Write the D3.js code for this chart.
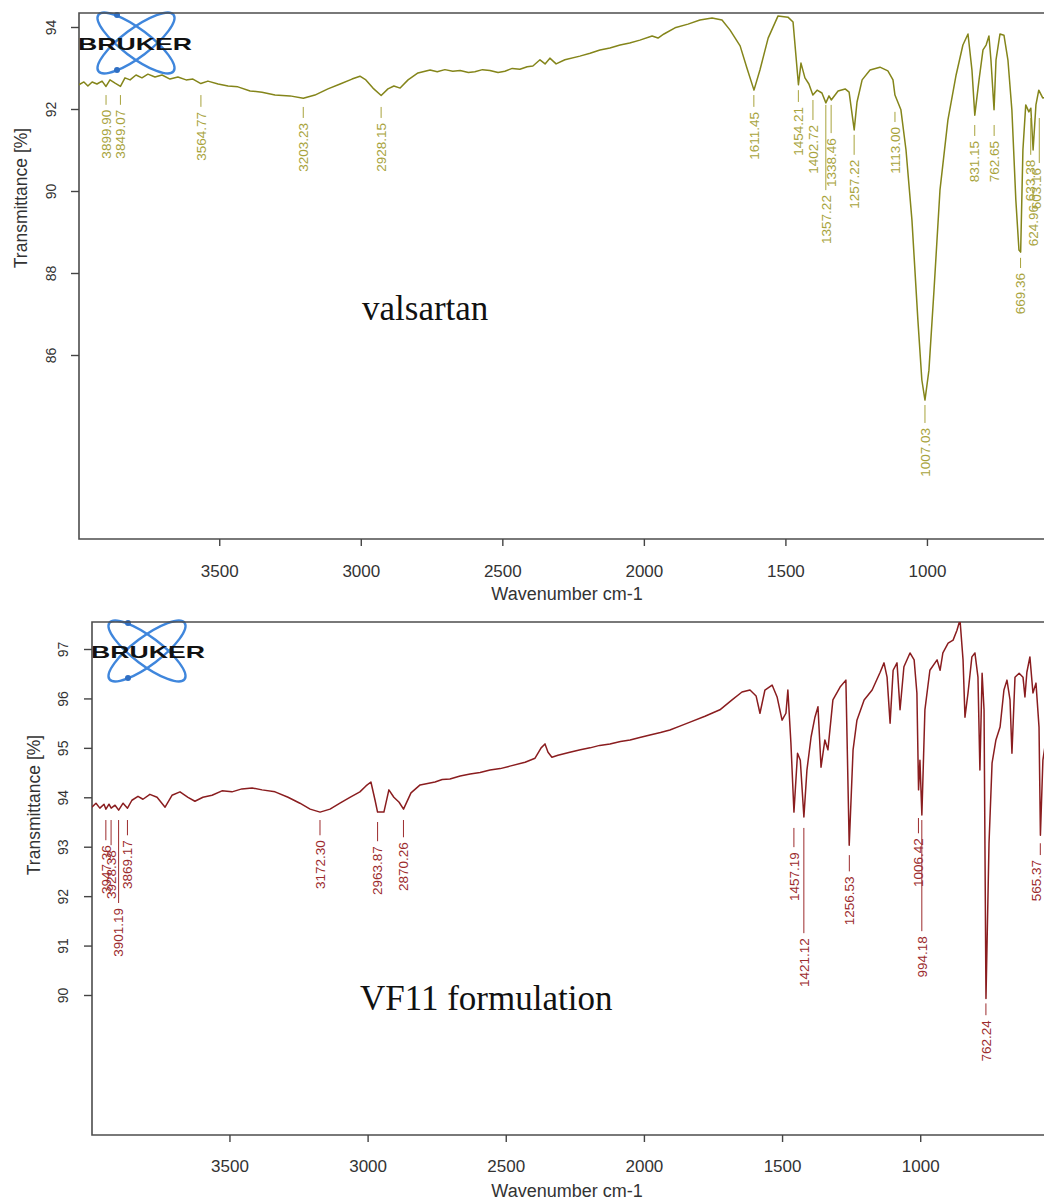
<!DOCTYPE html>
<html>
<head>
<meta charset="utf-8">
<script src="https://cdn.jsdelivr.net/npm/d3@7"></script>
<style>
  body { margin: 0; background: #fff; }
  svg { display: block; font-family: "Liberation Sans", Arial, sans-serif; }
</style>
</head>
<body>
<svg id="chart" width="1044" height="1202"></svg>
<script>
// FTIR spectra of valsartan and the VF11 formulation
// [wavenumber cm-1, transmittance %]

const valsartanSpectrum = [
  [3996, 92.59], [3978, 92.66], [3964, 92.56], [3949, 92.66], [3932, 92.61], [3914, 92.68], [3900, 92.55],
  [3886, 92.71], [3868, 92.63], [3849, 92.55], [3833, 92.76], [3815, 92.71], [3794, 92.83], [3773, 92.76],
  [3752, 92.85], [3727, 92.78], [3702, 92.83], [3674, 92.73], [3646, 92.78], [3617, 92.71], [3593, 92.73],
  [3565, 92.62], [3540, 92.68], [3504, 92.61], [3469, 92.56], [3434, 92.54], [3391, 92.44], [3349, 92.41],
  [3303, 92.34], [3250, 92.32], [3203, 92.26], [3162, 92.34], [3116, 92.49], [3073, 92.61], [3031, 92.73],
  [3003, 92.80], [2982, 92.71], [2957, 92.51], [2928, 92.33], [2904, 92.49], [2883, 92.56], [2861, 92.51],
  [2833, 92.71], [2798, 92.88], [2755, 92.95], [2730, 92.91], [2703, 92.96], [2675, 92.92], [2649, 92.94],
  [2620, 92.89], [2597, 92.91], [2570, 92.96], [2544, 92.94], [2515, 92.89], [2491, 92.92], [2465, 92.99],
  [2438, 92.97], [2412, 93.03], [2392, 93.05], [2367, 93.20], [2349, 93.10], [2332, 93.24], [2310, 93.10],
  [2279, 93.20], [2226, 93.29], [2190, 93.36], [2155, 93.44], [2120, 93.49], [2084, 93.56], [2050, 93.61],
  [2014, 93.68], [1971, 93.78], [1950, 93.73], [1929, 93.83], [1890, 93.98], [1844, 94.07], [1802, 94.17],
  [1759, 94.22], [1724, 94.17], [1696, 93.93], [1660, 93.54], [1636, 93.00], [1611, 92.46], [1590, 92.95],
  [1561, 93.73], [1526, 94.27], [1491, 94.24], [1473, 94.12], [1454, 92.59], [1445, 93.12], [1431, 92.76],
  [1417, 92.61], [1403, 92.34], [1388, 92.46], [1371, 92.39], [1357, 92.15], [1346, 92.32], [1338, 92.22],
  [1314, 92.44], [1289, 92.49], [1275, 92.41], [1257, 91.49], [1247, 92.17], [1229, 92.71], [1201, 92.95],
  [1166, 93.02], [1138, 92.93], [1120, 92.71], [1113, 92.34], [1092, 91.98], [1074, 91.00], [1053, 89.29],
  [1032, 86.85], [1018, 85.39], [1007, 84.90], [993, 85.63], [975, 87.59], [954, 90.02], [926, 91.73],
  [897, 92.83], [873, 93.56], [855, 93.83], [841, 92.95], [831, 91.85], [816, 92.71], [802, 93.44],
  [791, 93.56], [781, 93.78], [774, 93.20], [763, 91.98], [756, 93.20], [742, 93.83], [728, 93.80],
  [714, 93.20], [700, 91.98], [686, 89.78], [675, 88.56], [669, 88.51], [661, 91.00], [651, 92.10],
  [640, 91.93], [633, 92.02], [625, 91.00], [615, 92.10], [605, 92.46], [591, 92.27], [570, 92.30], [550, 92.40]
];

const vf11Spectrum = [
  [3998, 93.80], [3983, 93.88], [3969, 93.78], [3954, 93.86], [3947, 93.76], [3936, 93.86], [3928, 93.78],
  [3914, 93.84], [3901, 93.74], [3885, 93.88], [3869, 93.78], [3853, 93.94], [3831, 94.02], [3813, 93.96],
  [3788, 94.06], [3762, 94.00], [3733, 93.80], [3708, 94.04], [3679, 94.11], [3650, 94.00], [3625, 93.92],
  [3596, 94.00], [3563, 94.04], [3527, 94.13], [3491, 94.11], [3455, 94.17], [3418, 94.19], [3382, 94.15],
  [3335, 94.11], [3288, 94.00], [3245, 93.88], [3208, 93.76], [3172, 93.70], [3136, 93.76], [3100, 93.88],
  [3064, 94.00], [3028, 94.11], [3006, 94.23], [2988, 94.31], [2973, 93.94], [2964, 93.70], [2941, 93.70],
  [2923, 94.15], [2905, 94.00], [2886, 93.90], [2870, 93.76], [2843, 94.09], [2810, 94.25], [2756, 94.31],
  [2730, 94.36], [2702, 94.37], [2665, 94.43], [2629, 94.47], [2593, 94.50], [2557, 94.55], [2520, 94.58],
  [2485, 94.63], [2430, 94.71], [2394, 94.79], [2372, 95.00], [2358, 95.08], [2347, 94.91], [2333, 94.81],
  [2311, 94.85], [2268, 94.91], [2230, 94.96], [2195, 95.00], [2160, 95.05], [2123, 95.08], [2085, 95.13],
  [2050, 95.16], [2015, 95.21], [1978, 95.26], [1940, 95.31], [1906, 95.36], [1870, 95.44], [1833, 95.52],
  [1779, 95.64], [1725, 95.77], [1681, 95.97], [1645, 96.13], [1616, 96.17], [1594, 96.05], [1580, 95.70],
  [1562, 96.17], [1536, 96.27], [1518, 96.03], [1500, 95.56], [1486, 95.70], [1479, 96.17], [1468, 95.10],
  [1457, 93.70], [1444, 94.89], [1434, 94.75], [1421, 93.60], [1410, 94.55], [1395, 95.22], [1381, 95.62],
  [1370, 95.83], [1359, 94.61], [1345, 95.16], [1334, 94.96], [1316, 95.97], [1290, 96.23], [1269, 96.37],
  [1257, 93.03], [1243, 94.96], [1229, 95.56], [1203, 95.97], [1174, 96.17], [1145, 96.53], [1131, 96.72],
  [1120, 96.43], [1109, 95.50], [1098, 96.57], [1084, 96.72], [1073, 95.77], [1059, 96.64], [1037, 96.92],
  [1022, 96.78], [1012, 96.11], [1006, 94.15], [1001, 94.75], [994, 93.64], [983, 95.77], [965, 96.57],
  [939, 96.78], [928, 96.57], [918, 96.92], [899, 97.12], [881, 97.18], [867, 97.38], [856, 97.59],
  [845, 96.78], [838, 95.62], [827, 96.11], [813, 96.84], [802, 96.92], [791, 96.43], [784, 94.55],
  [776, 96.51], [769, 95.77], [762, 89.93], [751, 93.07], [740, 94.69], [726, 95.16], [711, 95.42],
  [697, 96.17], [686, 96.37], [675, 95.97], [668, 94.89], [657, 96.43], [642, 96.51], [628, 96.43],
  [621, 96.03], [614, 96.53], [603, 96.84], [592, 96.11], [581, 96.31], [570, 95.42], [565, 93.23],
  [556, 94.75], [545, 95.16]
];

// peak picks: wavenumber, level where the tick starts, level where the text starts (transmittance %)
const valsartanPeaks = [3899.90, 3849.07, 3564.77, 3203.23, 2928.15, 1611.45, 1454.21, 1402.72, 1357.22,
  1338.46, 1257.22, 1113.00, 1007.03, 831.15, 762.65, 669.36, 633.38, 624.96, 603.16];
const valsartanPeakTop = [92.34, 92.34, 92.34, 92.05, 92.05, 92.34, 92.46, 92.22, 92.10,
  92.10, 91.37, 91.93, 84.78, 91.61, 91.61, 88.37, 91.78, 90.02, 91.78];
const valsartanPeakText = [91.98, 91.98, 91.93, 91.66, 91.66, 91.93, 92.05, 91.61, 89.90,
  91.29, 90.76, 91.56, 84.22, 91.22, 91.22, 88.00, 90.76, 89.66, 90.56];

const vf11Peaks = [3947.36, 3928.38, 3901.19, 3869.17, 3172.30, 2963.87, 2870.26, 1457.19, 1421.12,
  1256.53, 1006.42, 994.18, 762.24, 565.37];
const vf11PeakTop = [93.54, 93.54, 93.54, 93.54, 93.54, 93.50, 93.54, 93.38, 93.38,
  92.83, 93.58, 93.54, 89.83, 93.07];
const vf11PeakText = [93.03, 92.93, 91.76, 93.13, 93.13, 93.01, 93.09, 92.89, 91.15,
  92.40, 93.17, 91.19, 89.49, 92.73];

const xTicks = [3500, 3000, 2500, 2000, 1500, 1000];
const valsartanYTicks = [86, 88, 90, 92, 94];
const vf11YTicks = [90, 91, 92, 93, 94, 95, 96, 97];

const svg = d3.select('#chart');
svg.append('rect').attr('width', 1044).attr('height', 1202).attr('fill', '#fff');

const fmt = d3.format('.2f');

function drawPanel(p) {
  const g = svg.append('g');
  const x = d3.scaleLinear().domain([4000, 400]).range(p.xRange);
  const y = d3.scaleLinear().domain(p.yDomain).range(p.yRange);

  svg.append('clipPath').attr('id', 'clip-' + p.id)
    .append('rect')
    .attr('x', p.left).attr('y', p.top)
    .attr('width', 1044 - p.left).attr('height', p.bottom - p.top);

  // Bruker logo
  const logo = g.append('g').attr('transform', `translate(${p.logo[0]},${p.logo[1]})`);
  [37, -37].forEach(a => {
    logo.append('ellipse').attr('rx', 47).attr('ry', 14)
      .attr('transform', `rotate(${a})`)
      .attr('fill', 'none').attr('stroke', '#3f86dc').attr('stroke-width', 2.4);
  });
  [[-19, -28], [-19, 27]].forEach(d => {
    logo.append('circle').attr('cx', d[0]).attr('cy', d[1]).attr('r', 3).attr('fill', '#2f6fc4');
  });
  g.append('text')
    .attr('x', p.left - 1).attr('y', p.logo[1] + 7)
    .attr('textLength', 114).attr('lengthAdjust', 'spacingAndGlyphs')
    .attr('font-size', 17).attr('font-weight', 'bold').attr('fill', '#111')
    .text('BRUKER');

  // frame (open on the right, the picture is cut there)
  g.append('path')
    .attr('d', `M1044,${p.top}H${p.left}V${p.bottom}H1044`)
    .attr('fill', 'none').attr('stroke', '#4d4d4d').attr('stroke-width', 1.6);

  // spectrum
  g.append('path').datum(p.data)
    .attr('clip-path', `url(#clip-${p.id})`)
    .attr('d', d3.line().x(d => x(d[0])).y(d => y(d[1])))
    .attr('fill', 'none').attr('stroke', p.color)
    .attr('stroke-width', 1.5).attr('stroke-linejoin', 'round');

  // peak labels (text kept inside the right edge)
  const pk = g.append('g').selectAll('g')
    .data(p.peaks.map((w, i) => ({ w, top: p.peakTop[i], txt: p.peakText[i] })))
    .join('g');
  pk.append('line')
    .attr('x1', d => x(d.w)).attr('x2', d => x(d.w))
    .attr('y1', d => y(d.top)).attr('y2', d => y(d.txt) - 5)
    .attr('stroke', p.labelColor).attr('stroke-width', 1);
  pk.append('text')
    .attr('transform', d => `translate(${Math.min(x(d.w), 1036)},${y(d.txt)}) rotate(-90)`)
    .attr('text-anchor', 'end').attr('dy', '0.35em')
    .attr('font-size', 13.5).attr('fill', p.labelColor)
    .text(d => fmt(d.w));

  // x axis
  const xa = g.append('g').attr('transform', `translate(0,${p.bottom})`)
    .call(d3.axisBottom(x).tickValues(xTicks).tickSize(7).tickPadding(p.xPad).tickFormat(d3.format('d')));
  xa.select('.domain').remove();
  xa.selectAll('line').attr('stroke', '#444').attr('stroke-width', 1.4);
  xa.selectAll('text').attr('font-size', 17).attr('fill', '#333')
    .attr('font-family', '"Liberation Sans", Arial, sans-serif');
  g.append('text')
    .attr('x', 567).attr('y', p.bottom + p.titleGap)
    .attr('text-anchor', 'middle').attr('font-size', 18).attr('fill', '#333')
    .text('Wavenumber cm-1');

  // y axis
  const ya = g.append('g').attr('transform', `translate(${p.left},0)`)
    .call(d3.axisLeft(y).tickValues(p.yTicks).tickSize(8).tickFormat(d3.format('d')));
  ya.select('.domain').remove();
  ya.selectAll('line').attr('stroke', '#444').attr('stroke-width', 1.4);
  ya.selectAll('text')
    .attr('x', 0).attr('y', -p.yLabelOffset).attr('dy', null)
    .attr('transform', 'rotate(-90)').attr('text-anchor', 'middle')
    .attr('font-size', 14).attr('fill', '#333')
    .attr('font-family', '"Liberation Sans", Arial, sans-serif');
  g.append('text')
    .attr('transform', `translate(${p.yTitle[0]},${p.yTitle[1]}) rotate(-90)`)
    .attr('text-anchor', 'middle').attr('font-size', 17.5).attr('fill', '#333')
    .text('Transmittance [%]');

  // sample name
  g.append('text')
    .attr('x', p.name[0]).attr('y', p.name[1])
    .attr('font-family', '"Liberation Serif", "Times New Roman", serif')
    .attr('font-size', 35).attr('fill', '#111')
    .text(p.nameText);
}

drawPanel({
  id: 'vals', data: valsartanSpectrum, color: '#84851a', labelColor: '#a8a33c',
  peaks: valsartanPeaks, peakTop: valsartanPeakTop, peakText: valsartanPeakText,
  xRange: [77.7, 1096.8], yDomain: [86, 94], yRange: [355, 27], yTicks: valsartanYTicks,
  left: 79, top: 13, bottom: 539, xPad: 19, titleGap: 61, yLabelOffset: 23,
  yTitle: [27, 198], logo: [136, 43], name: [362, 320], nameText: 'valsartan'
});

drawPanel({
  id: 'vf11', data: vf11Spectrum, color: '#8a1d1f', labelColor: '#9c2b2d',
  peaks: vf11Peaks, peakTop: vf11PeakTop, peakText: vf11PeakText,
  xRange: [91.3, 1086], yDomain: [90, 97], yRange: [995, 649], yTicks: vf11YTicks,
  left: 92, top: 622, bottom: 1135, xPad: 18, titleGap: 62, yLabelOffset: 24,
  yTitle: [40, 805], logo: [147, 651], name: [360, 1010], nameText: 'VF11 formulation'
});
</script>
</body>
</html>
